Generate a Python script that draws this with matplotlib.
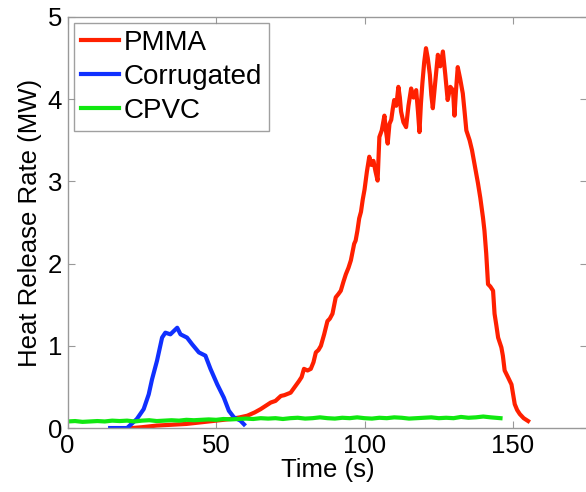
import matplotlib.pyplot as plt

# PMMA heat release rate (MW) vs time (s)
pmma_t = [21.7, 25, 30, 35, 40, 45, 50, 54.9, 58, 60.5, 63, 65, 68.4, 70, 71.8, 73,
          75.1, 76.5, 77.9, 78.8, 79.6, 80.8, 81.9, 82.8, 83.6, 84.5, 85.3, 86.4, 87.5,
          88.3, 89.2, 90.3, 91.2, 92, 92.9, 93.7, 94.6, 95.4, 96.5, 97.0, 97.6, 98.2,
          98.8, 99.4, 100, 100.8, 101.6, 102.3, 103, 103.7, 104.4, 105, 105.8, 106.7,
          107.2, 107.8, 108.4, 109, 109.5, 110, 110.7, 111.4, 111.9, 112.3, 113.1, 114,
          114.8, 115.7, 116.5, 117.4, 118.0, 118.5, 119.0, 119.5, 120.1, 120.7, 121.3,
          122, 122.5, 123, 123.8, 124.7, 125.5, 126.4, 127.2, 128, 128.9, 129.8, 130.3,
          130.8, 131.4, 132.2, 133.1, 133.7, 134.3, 135.4, 136.2, 137, 137.6, 138.2,
          139.0, 139.9, 140.4, 141, 141.6, 142.4, 143.3, 143.8, 144.4, 145, 146.1,
          146.6, 147.2, 148.3, 149.5, 150.6, 151.4, 152.3, 153.6, 155.1]
pmma_q = [0.0, 0.01, 0.03, 0.04, 0.05, 0.07, 0.09, 0.11, 0.13, 0.15, 0.19, 0.23, 0.31,
          0.33, 0.39, 0.40, 0.43, 0.50, 0.57, 0.62, 0.72, 0.70, 0.72, 0.80, 0.92, 0.95,
          1.00, 1.14, 1.30, 1.33, 1.39, 1.59, 1.63, 1.67, 1.78, 1.87, 1.95, 2.04, 2.24,
          2.28, 2.40, 2.55, 2.63, 2.78, 2.90, 3.12, 3.30, 3.20, 3.25, 3.12, 3.01, 3.54,
          3.62, 3.80, 3.62, 3.46, 3.70, 3.75, 3.88, 3.99, 3.92, 4.15, 4.02, 3.85, 3.72,
          3.66, 3.92, 4.13, 4.02, 4.11, 3.85, 3.60, 3.95, 4.20, 4.45, 4.62, 4.50, 4.30,
          4.05, 3.89, 4.20, 4.54, 4.40, 4.58, 4.30, 3.99, 4.15, 4.11, 3.80, 4.10, 4.39,
          4.25, 4.07, 3.85, 3.62, 3.50, 3.38, 3.22, 3.10, 2.98, 2.80, 2.56, 2.40, 2.12,
          1.75, 1.72, 1.67, 1.39, 1.25, 1.10, 0.98, 0.88, 0.70, 0.62, 0.53, 0.29, 0.22,
          0.17, 0.12, 0.085]

# Corrugated
corr_t = [14.3, 20, 23.3, 25.6, 27.3, 28.4, 30.1, 31.8, 32.9, 34.6, 36.9, 38, 40.2,
          41.9, 44.2, 46.4, 48.1, 50.4, 52.6, 54.3, 56, 58.2, 59.4]
corr_q = [0.0, 0.0, 0.11, 0.23, 0.41, 0.59, 0.82, 1.10, 1.16, 1.14, 1.22, 1.14, 1.10,
          1.02, 0.92, 0.88, 0.72, 0.53, 0.37, 0.21, 0.13, 0.09, 0.045]

# CPVC
cpvc_t = [0, 2.5, 5, 7.5, 10, 12.5, 15, 17.5, 20, 22.5, 25, 27.5, 30, 32.5, 35, 37.5,
          40, 42.5, 45, 47.5, 50, 52.5, 55, 57.5, 60, 62.5, 65, 67.5, 70, 72.5, 75,
          77.5, 80, 82.5, 85, 87.5, 90, 92.5, 95, 97.5, 100, 102.5, 105, 107.5, 110,
          112.5, 115, 117.5, 120, 122.5, 125, 127.5, 130, 132.5, 135, 137.5, 140,
          142.5, 145.8]
cpvc_q = [0.08, 0.085, 0.075, 0.08, 0.085, 0.08, 0.09, 0.085, 0.09, 0.08, 0.09, 0.095,
          0.085, 0.09, 0.095, 0.09, 0.10, 0.095, 0.10, 0.105, 0.10, 0.11, 0.105, 0.11,
          0.115, 0.11, 0.12, 0.115, 0.12, 0.11, 0.12, 0.125, 0.115, 0.12, 0.13, 0.12,
          0.115, 0.125, 0.12, 0.13, 0.12, 0.115, 0.125, 0.12, 0.13, 0.125, 0.115, 0.12,
          0.125, 0.13, 0.12, 0.125, 0.12, 0.135, 0.125, 0.13, 0.14, 0.13, 0.12]

plt.rcParams['font.family'] = ['Liberation Sans', 'DejaVu Sans']

fig = plt.figure(figsize=(5.86, 4.92), dpi=100)
ax = fig.add_axes([0.1155, 0.130, 0.8865, 0.8355])

ax.plot(pmma_t, pmma_q, color='#ff2000', lw=3, label='PMMA')
ax.plot(corr_t, corr_q, color='#1030ff', lw=3, label='Corrugated')
ax.plot(cpvc_t, cpvc_q, color='#10e810', lw=3, label='CPVC')

ax.set_xlim(0, 175)
ax.set_ylim(0, 5)
ax.set_xticks([0, 50, 100, 150])
ax.set_yticks([0, 1, 2, 3, 4, 5])
ax.tick_params(direction='in', length=5, color='#999999', labelsize=18.5,
               top=True, right=True, pad=4)
for s in ax.spines.values():
    s.set_color('#999999')
    s.set_linewidth(1)

ax.set_xlabel('Time (s)', fontsize=18.5, labelpad=0)
ax.set_ylabel('Heat Release Rate (MW)', fontsize=18.5, labelpad=4)

leg = ax.legend(loc='upper left', bbox_to_anchor=(0.0125, 0.985), fontsize=20,
                frameon=True, fancybox=False, handlelength=1.35, handletextpad=0.17,
                borderpad=0.25, labelspacing=0.28, borderaxespad=0)
leg.get_frame().set_edgecolor('#888888')
leg.get_frame().set_linewidth(1)

fig.savefig('out.png', dpi=100)
